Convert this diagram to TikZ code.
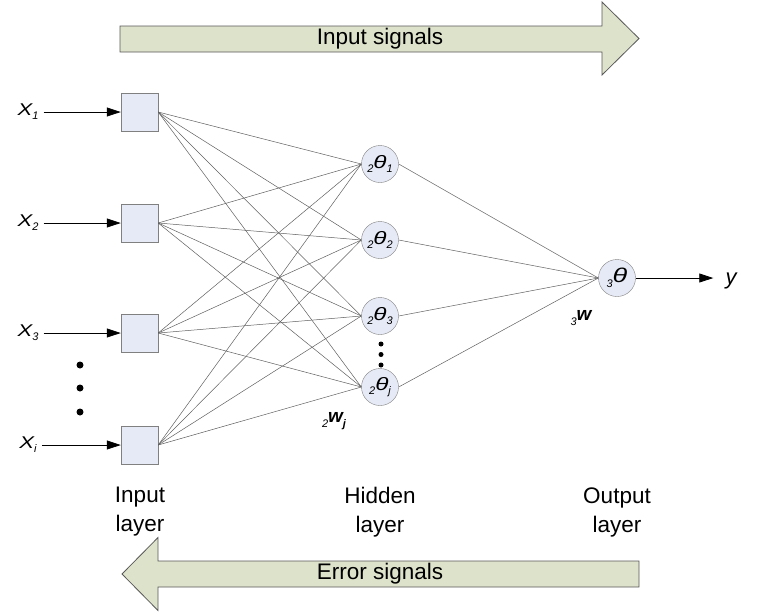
\documentclass[tikz,border=0pt]{standalone}
\usepackage{fontspec}
\usepackage{graphicx}
\setmainfont{Liberation Sans}
\usetikzlibrary{arrows.meta, positioning}

\definecolor{boxfill}{RGB}{230,234,246}
\definecolor{bandfill}{RGB}{221,226,203}
\definecolor{linkgray}{RGB}{95,95,95}

\newcommand{\lo}[1]{\raisebox{-.45ex}{\fontsize{11}{11}\selectfont\itshape #1}}
\newcommand{\wth}{\scalebox{1.35}[1]{θ}}
\newcommand{\wX}{\scalebox{1.3}[1]{X}}

\begin{document}
\begin{tikzpicture}[x=1pt, y=-1pt,
    every node/.style={font=\fontsize{22.5}{29}\selectfont},
    inbox/.style={draw=black!50, fill=boxfill, minimum width=37pt,
        minimum height=38pt, inner sep=0pt},
    neuron/.style={circle, draw=black!50, fill=boxfill, minimum size=37pt,
        inner sep=0pt, font=\fontsize{18}{18}\selectfont\itshape},
    xlab/.style={inner xsep=5pt, font=\fontsize{17}{17}\selectfont\itshape},
    wlab/.style={font=\fontsize{19}{19}\selectfont\itshape},
    layer/.style={align=center},
    link/.style={draw=linkgray, line width=0.5pt},
    sig/.style={-{Triangle[length=14pt,width=9pt]}, line width=0.8pt},
    band/.style={draw=black!65, fill=bandfill, line width=0.8pt}]

    \useasboundingbox (0,0) rectangle (762,614);

    % signal bands
    \draw[band] (120,26) -- (602,26) -- (602,2) -- (639,38.5) -- (602,75)
        -- (602,52) -- (120,52) -- cycle;
    \node (insig) at (380,39) {Input signals};
    \draw[band] (639,561) -- (158,561) -- (158,537.5) -- (122,574)
        -- (158,610.5) -- (158,587) -- (639,587) -- cycle;
    \node (errsig) at (380,574) {Error signals};

    % input layer
    \foreach \n/\y in {1/112,2/223,3/333,i/445} {
        \node[inbox] (in-\n) at (139.5,\y) {};
        \node[xlab] (x-\n) at (28,\y) {\wX\lo{\n}};
        \draw[sig] (x-\n.east |- in-\n.west) -- (in-\n.west);
    }
    \foreach \y in {365,388,412}
        \fill (80,\y) circle (3.5pt);

    % hidden layer
    \foreach \n/\y in {1/164,2/240,3/316,j/387}
        \node[neuron] (hid-\n) at (380,\y) {\lo{2}\wth\lo{\n}};
    \foreach \y in {344,354.5,365}
        \fill (381,\y) circle (2.5pt);

    % output layer
    \node[neuron, font=\fontsize{20}{20}\selectfont\itshape] (out) at (617,278) {\lo{3}\wth};
    \node[inner xsep=12pt, font=\fontsize{22}{22}\selectfont\itshape] (yout) at (731,281) {y};
    \draw[sig] (out.east) -- (out.east -| yout.west);

    % weights
    \foreach \i in {1,2,3,i}
        \foreach \h in {1,2,3,j}
            \draw[link] (in-\i.east) -- (hid-\h.west);
    \foreach \h in {1,2,3,j}
        \draw[link] (hid-\h.east) -- (out.west);

    \node[wlab] (w2) at (334,421) {\lo{2}{\bfseries w}\lo{\bfseries j}};
    \node[wlab] (w3) at (581,318) {\lo{3}{\bfseries w}};

    % layer names
    \node[layer] (lay-in) at (140,512) {Input\\layer};
    \node[layer] (lay-hid) at (380,512) {Hidden\\layer};
    \node[layer] (lay-out) at (617,512) {Output\\layer};

\end{tikzpicture}
\end{document}
